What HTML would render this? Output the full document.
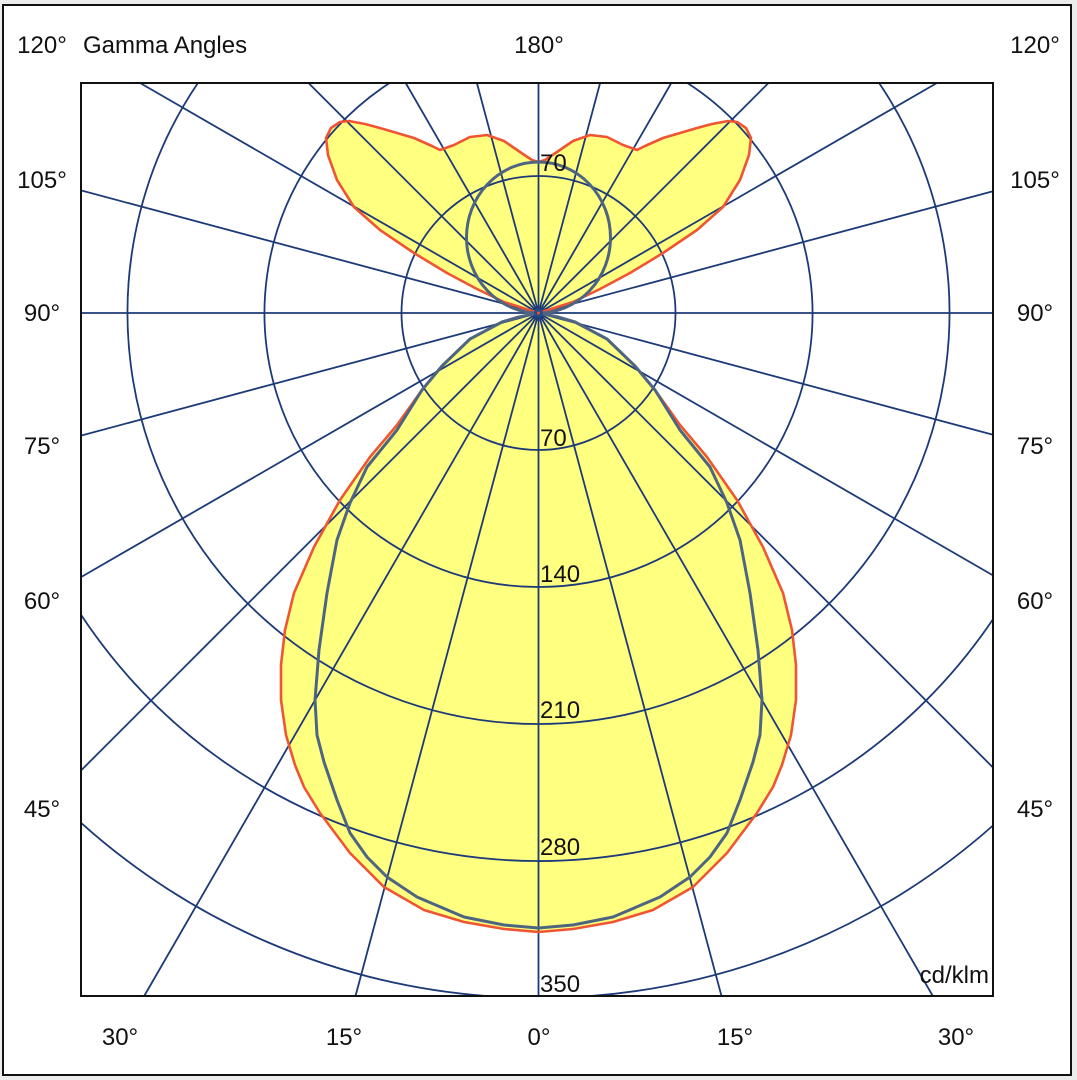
<!DOCTYPE html>
<html>
<head>
<meta charset="utf-8">
<style>
html,body{margin:0;padding:0;background:#ececec;width:1077px;height:1080px;overflow:hidden;}
svg{display:block;}
text{font-family:"Liberation Sans",Arial,sans-serif;font-size:24px;fill:#111;}
</style>
</head>
<body>
<svg width="1077" height="1080" viewBox="0 0 1077 1080" xmlns="http://www.w3.org/2000/svg">
<rect x="0" y="0" width="1077" height="1080" fill="#ececec"/>
<rect x="3" y="5" width="1068" height="1070" fill="#ffffff" stroke="#111" stroke-width="2"/>
<rect x="81" y="83" width="912" height="913" fill="#fff"/>
<!-- upper red lobe -->
<polygon fill="#ffff80" stroke="none" points="538.5,313 573,302 600,289 630,273 663,253 697,230 723,207 740,180 749,155 751,138 746,128 737,122 728,121 712,124 697,128 663,138 645,146 637,150 623,145 607,137 590,135 573,141 557,152 545,160 538.5,162 532,160 520,152 504,141 487,135 470,137 454,145 440,150 432,146 414,138 380,128 365,124 349,121 340,122 331,128 326,138 328,155 337,180 354,207 380,230 414,253 447,273 477,289 504,302"/>
<!-- lower red lobe -->
<polygon fill="#ffff80" stroke="none" points="538.5,313 558,317 575,322 607,339 635,366 655,390 680,425 707,457 737,500 763,547 783,593 792,630 796,665 796,700 791,735 782,765 773,787 757,813 727,853 693,887 653,910 613,922 573,929 538.5,932 504,929 464,922 424,910 384,887 350,853 320,813 304,787 295,765 286,735 281,700 281,665 285,630 294,593 314,547 340,500 370,457 397,425 422,390 442,366 470,339 502,322 519,317"/>
<!-- grid circles (clipped manually to plot box) -->
<g fill="none" stroke="#1d3a78" stroke-width="1.8">
<circle cx="538.5" cy="313" r="137"/>
<path d="M687.4,83 A274,274 0 1 1 389.6,83"/>
<path d="M879.1,83 A411,411 0 1 1 197.9,83"/>
<path d="M993,619.2 A548,548 0 0 1 81,614.7"/>
<path d="M993,825.5 A685,685 0 0 1 590.8,996"/>
<path d="M486.2,996 A685,685 0 0 1 81,822.8"/>
</g>
<!-- radial lines every 15 deg, ending at box edges -->
<g stroke="#1d3a78" stroke-width="1.8">
<line x1="538.5" y1="83" x2="538.5" y2="996"/>
<line x1="81" y1="313" x2="993" y2="313"/>
<line x1="538.5" y1="313" x2="721.5" y2="996"/>
<line x1="538.5" y1="313" x2="355.5" y2="996"/>
<line x1="538.5" y1="313" x2="932.8" y2="996"/>
<line x1="538.5" y1="313" x2="144.2" y2="996"/>
<line x1="538.5" y1="313" x2="993" y2="767.5"/>
<line x1="538.5" y1="313" x2="81" y2="770.5"/>
<line x1="538.5" y1="313" x2="993" y2="575.4"/>
<line x1="538.5" y1="313" x2="81" y2="577.1"/>
<line x1="538.5" y1="313" x2="993" y2="434.8"/>
<line x1="538.5" y1="313" x2="81" y2="435.6"/>
<line x1="538.5" y1="313" x2="993" y2="191.2"/>
<line x1="538.5" y1="313" x2="81" y2="190.4"/>
<line x1="538.5" y1="313" x2="936.9" y2="83"/>
<line x1="538.5" y1="313" x2="140.1" y2="83"/>
<line x1="538.5" y1="313" x2="768.5" y2="83"/>
<line x1="538.5" y1="313" x2="308.5" y2="83"/>
<line x1="538.5" y1="313" x2="671.3" y2="83"/>
<line x1="538.5" y1="313" x2="405.7" y2="83"/>
<line x1="538.5" y1="313" x2="600.1" y2="83"/>
<line x1="538.5" y1="313" x2="476.9" y2="83"/>
</g>
<!-- red outlines -->
<g fill="none" stroke="#ef5533" stroke-width="2.6" stroke-linejoin="round">
<polygon points="538.5,313 573,302 600,289 630,273 663,253 697,230 723,207 740,180 749,155 751,138 746,128 737,122 728,121 712,124 697,128 663,138 645,146 637,150 623,145 607,137 590,135 573,141 557,152 545,160 538.5,162 532,160 520,152 504,141 487,135 470,137 454,145 440,150 432,146 414,138 380,128 365,124 349,121 340,122 331,128 326,138 328,155 337,180 354,207 380,230 414,253 447,273 477,289 504,302"/>
<polygon points="538.5,313 558,317 575,322 607,339 635,366 655,390 680,425 707,457 737,500 763,547 783,593 792,630 796,665 796,700 791,735 782,765 773,787 757,813 727,853 693,887 653,910 613,922 573,929 538.5,932 504,929 464,922 424,910 384,887 350,853 320,813 304,787 295,765 286,735 281,700 281,665 285,630 294,593 314,547 340,500 370,457 397,425 422,390 442,366 470,339 502,322 519,317"/>
</g>
<!-- gray curves -->
<g fill="none" stroke="#4e6582" stroke-width="3" stroke-linejoin="round">
<ellipse cx="538.5" cy="237.5" rx="72" ry="75.5"/>
<polygon points="538.5,313 558,317 575,322 607,339 635,366 655,390 680,430 710,467 727,503 740,540 750,593 758,650 762,700 760,735 753,762 740,800 727,833 710,857 690,877 660,897 613,917 573,925 538.5,928 504,925 464,917 417,897 387,877 367,857 350,833 337,800 324,762 317,735 315,700 319,650 327,593 337,540 350,503 367,467 397,430 422,390 442,366 470,339 502,322 519,317"/>
</g>
<circle cx="538.5" cy="313" r="4.5" fill="#2a4a86"/>
<circle cx="538.5" cy="313" r="1.5" fill="#ef5533"/>
<!-- ring labels -->
<text x="540" y="171">70</text>
<text x="540" y="446">70</text>
<text x="540" y="582">140</text>
<text x="540" y="718">210</text>
<text x="540" y="855">280</text>
<text x="540" y="992">350</text>
<text x="989" y="983" text-anchor="end">cd/klm</text>
<rect x="81" y="83" width="912" height="913" fill="none" stroke="#111" stroke-width="2"/>
<!-- outer labels -->
<text x="42" y="53" text-anchor="middle">120°</text>
<text x="83" y="53">Gamma Angles</text>
<text x="539" y="53" text-anchor="middle">180°</text>
<text x="1035" y="53" text-anchor="middle">120°</text>
<text x="42" y="188" text-anchor="middle">105°</text>
<text x="1035" y="188" text-anchor="middle">105°</text>
<text x="42" y="321" text-anchor="middle">90°</text>
<text x="1035" y="321" text-anchor="middle">90°</text>
<text x="42" y="454" text-anchor="middle">75°</text>
<text x="1035" y="454" text-anchor="middle">75°</text>
<text x="42" y="609" text-anchor="middle">60°</text>
<text x="1035" y="609" text-anchor="middle">60°</text>
<text x="42" y="817" text-anchor="middle">45°</text>
<text x="1035" y="817" text-anchor="middle">45°</text>
<text x="120" y="1045" text-anchor="middle">30°</text>
<text x="344" y="1045" text-anchor="middle">15°</text>
<text x="539" y="1045" text-anchor="middle">0°</text>
<text x="735" y="1045" text-anchor="middle">15°</text>
<text x="956" y="1045" text-anchor="middle">30°</text>
</svg>
</body>
</html>
